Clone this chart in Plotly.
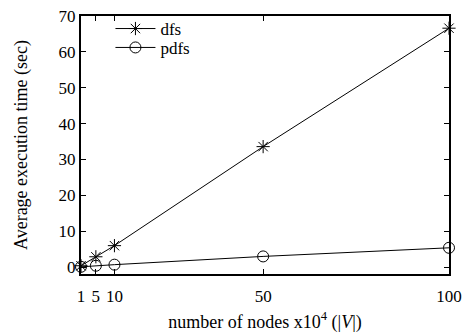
import plotly.graph_objects as go

nodes = [1, 5, 10, 50, 100]
dfs = [0.4, 2.9, 6.0, 33.6, 66.6]
pdfs = [0.1, 0.4, 0.7, 3.0, 5.4]
xticks = [1, 5, 10, 50, 100]
yticks = [0, 10, 20, 30, 40, 50, 60, 70]

font = "Liberation Serif, Times New Roman, serif"

fig = go.Figure()
fig.add_trace(go.Scatter(x=nodes, y=dfs, name="dfs", mode="lines+markers",
                         line=dict(color="black", width=1),
                         marker=dict(symbol="asterisk-open", size=11, color="black",
                                     line=dict(width=1, color="black")),
                         cliponaxis=False, legend="legend"))
fig.add_trace(go.Scatter(x=nodes, y=pdfs, name="pdfs", mode="lines+markers",
                         line=dict(color="black", width=1),
                         marker=dict(symbol="circle-open", size=11, color="black",
                                     line=dict(width=1, color="black")),
                         cliponaxis=False, legend="legend2"))

axis_common = dict(showline=True, linecolor="black", linewidth=2, mirror="ticks",
                   ticks="inside", ticklen=5, tickcolor="black", tickwidth=1,
                   showgrid=False, zeroline=False, automargin=False,
                   tickfont=dict(family=font, size=17, color="black"))

legend_common = dict(x=0.08, xanchor="left", yanchor="middle",
                     bgcolor="rgba(0,0,0,0)", font=dict(family=font, size=17),
                     itemwidth=40)

fig.update_layout(
    width=465, height=336,
    margin=dict(l=81, r=16, t=15, b=62),
    paper_bgcolor="white", plot_bgcolor="white",
    font=dict(family=font, color="black"),
    xaxis=dict(range=[1, 100], tickvals=xticks, ticktext=[str(v) for v in xticks],
               ticklabelstandoff=6,
               title=dict(text="number of nodes x10<sup>4</sup> (|<i>V</i>|)",
                          font=dict(family=font, size=18), standoff=10),
               **axis_common),
    yaxis=dict(range=[-1.9, 70], tickvals=yticks,
               title=dict(text="Average execution time (sec)",
                          font=dict(family=font, size=18), standoff=26),
               **axis_common),
    legend=dict(y=0.946, **legend_common),
    legend2=dict(y=0.873, **legend_common),
    showlegend=True,
)

fig.write_html("out.html")
